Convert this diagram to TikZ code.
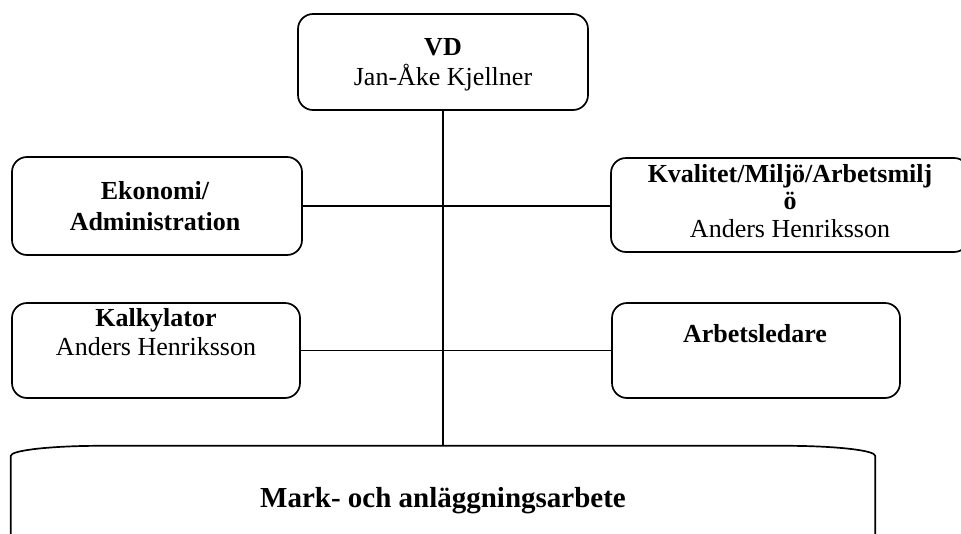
\documentclass[tikz,border=0pt]{standalone}
\usepackage{fontspec}
\setmainfont{Liberation Serif}
\begin{document}
\begin{tikzpicture}[x=1pt,y=-1pt,
  ln/.style={line width=1.4pt, line join=round},
  orgbox/.style={draw, line width=1.7pt, rounded corners=15pt, inner sep=0pt},
  txt/.style={inner sep=0pt, anchor=base, font=\fontsize{26}{30}\selectfont},
  btxt/.style={txt, font=\fontsize{26}{30}\selectfont\bfseries}]
\clip (0,0) rectangle (961,533);
\fill[white] (0,0) rectangle (961,533);
% boxes
\node[orgbox, minimum width=290pt, minimum height=96pt] (vd) at (443,62) {};
\node[orgbox, minimum width=290pt, minimum height=98pt] (eko) at (157,206) {};
\node[orgbox, minimum width=358pt, minimum height=94pt] (kval) at (790,205) {};
\node[orgbox, minimum width=288pt, minimum height=95pt] (kalk) at (156,350.5) {};
\node[orgbox, minimum width=288pt, minimum height=95pt] (arb) at (756,350.5) {};
\node[inner sep=0pt, minimum width=864pt, minimum height=164pt] (main) at (443,528) {};
\draw[line width=1.7pt, line join=round] (main.south west) -- ([yshift=-10pt]main.north west)
  arc[start angle=180, end angle=270, x radius=90, y radius=10]
  -- ([xshift=-90pt]main.north east)
  arc[start angle=270, end angle=360, x radius=90, y radius=10]
  -- (main.south east);
% texts
\node[btxt] (t1) at (443,55) {VD};
\node[txt] (t2) at (443,85) {Jan-Åke Kjellner};
\node[btxt] (t3) at (155,199) {Ekonomi/};
\node[btxt] (t4) at (155,230) {Administration};
\node[btxt] (t5) at (790,182) {Kvalitet/Miljö/Arbetsmilj};
\node[btxt] (t6) at (790,209) {ö};
\node[txt] (t7) at (790,237) {Anders Henriksson};
\node[btxt] (t8) at (156,326) {Kalkylator};
\node[txt] (t9) at (156,355) {Anders Henriksson};
\node[btxt] (t10) at (755,342) {Arbetsledare};
\node[btxt, font=\fontsize{29}{32}\selectfont\bfseries] (t11) at (443,507) {Mark- och anläggningsarbete};
% connectors
\draw[ln] (vd.south) -- (main.north);
\draw[ln] (eko.east) -- (kval.west |- eko.east);
\draw[ln] (kalk.east) -- (arb.west);
\end{tikzpicture}
\end{document}
